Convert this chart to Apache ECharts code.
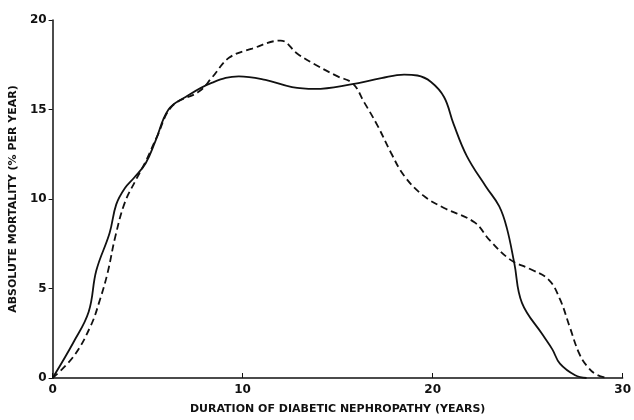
<!DOCTYPE html>
<html lang="en">
<head>
    <meta charset="utf-8">
    <title>Absolute mortality</title>
    <script src="https://cdn.jsdelivr.net/npm/echarts@6/dist/echarts.min.js"></script>
    <style>
        html, body { margin: 0; padding: 0; background: #fff; }
        #chart { width: 634px; height: 420px; }
    </style>
</head>
<body>
<div id="chart"></div>
<script>
    // solid curve
    var solidX = [0, 1.1, 1.9, 2.3, 3.0, 3.35, 3.8, 4.3, 4.9, 5.4, 6.1, 7.0, 8.4, 9.8, 11.2, 12.6, 13.8, 15.7, 17.3, 18.5, 19.2, 19.9, 20.6, 21.1, 21.8, 22.8, 23.5, 23.9, 24.3, 24.7, 25.8, 26.3, 26.7, 27.5, 28.1];
    var solidY = [0, 2.0, 3.7, 6.0, 8.1, 9.7, 10.6, 11.2, 12.0, 13.2, 15.0, 15.7, 16.5, 16.85, 16.65, 16.25, 16.15, 16.4, 16.75, 16.95, 16.9, 16.55, 15.7, 14.2, 12.4, 10.7, 9.6, 8.4, 6.4, 4.2, 2.4, 1.6, 0.8, 0.15, 0];
    // dashed curve
    var dashX = [0, 1.1, 2.0, 2.5, 2.9, 3.3, 3.8, 4.4, 4.9, 5.5, 6.3, 7.7, 8.4, 9.3, 10.5, 12.0, 12.9, 14.0, 15.0, 15.8, 16.4, 17.1, 17.8, 18.5, 19.5, 20.6, 22.2, 23.0, 24.1, 25.1, 26.1, 26.7, 27.2, 27.7, 28.1, 28.6, 29.2];
    var dashY = [0, 1.2, 2.9, 4.4, 5.9, 7.9, 9.8, 11.1, 12.1, 13.5, 15.2, 16.0, 16.8, 17.9, 18.4, 18.85, 18.1, 17.4, 16.85, 16.45, 15.4, 14.1, 12.6, 11.3, 10.2, 9.5, 8.7, 7.7, 6.6, 6.1, 5.5, 4.4, 2.9, 1.4, 0.7, 0.2, 0];

    function pairs(xs, ys) {
        var out = [];
        for (var i = 0; i < xs.length; i++) out.push([xs[i], ys[i]]);
        return out;
    }

    var font = 'DejaVu Sans';
    var chart = echarts.init(document.getElementById('chart'));
    chart.setOption({
        animation: false,
        backgroundColor: '#fff',
        grid: { left: 52, right: 7, top: 20, bottom: 41 },
        xAxis: {
            type: 'value', min: 0, max: 30, interval: 10,
            name: 'DURATION OF DIABETIC NEPHROPATHY (YEARS)',
            nameLocation: 'middle', nameGap: 26,
            nameTextStyle: { color: '#111', fontFamily: font, fontWeight: 'bold', fontSize: 11 },
            axisLine: { lineStyle: { color: '#111', width: 1.5 } },
            axisTick: { inside: true, length: 5, lineStyle: { color: '#111' } },
            axisLabel: { color: '#111', fontFamily: font, fontWeight: 'bold', fontSize: 12, margin: 6 },
            splitLine: { show: false }
        },
        yAxis: {
            type: 'value', min: 0, max: 20, interval: 5,
            name: 'ABSOLUTE MORTALITY (% PER YEAR)',
            nameLocation: 'middle', nameGap: 28, nameRotate: 90,
            nameTextStyle: { color: '#111', fontFamily: font, fontWeight: 'bold', fontSize: 11 },
            axisLine: { show: true, lineStyle: { color: '#111', width: 1.5 } },
            axisTick: { show: true, length: 4, lineStyle: { color: '#111' } },
            axisLabel: { color: '#111', fontFamily: font, fontWeight: 'bold', fontSize: 12, margin: 6 },
            splitLine: { show: false }
        },
        series: [
            {
                name: 'solid', type: 'line', smooth: 0.4, symbol: 'none',
                lineStyle: { color: '#111', width: 1.8 },
                data: pairs(solidX, solidY)
            },
            {
                name: 'dashed', type: 'line', smooth: 0.4, symbol: 'none',
                lineStyle: { color: '#111', width: 1.8, type: [7, 4] },
                data: pairs(dashX, dashY)
            }
        ]
    });
</script>
</body>
</html>
